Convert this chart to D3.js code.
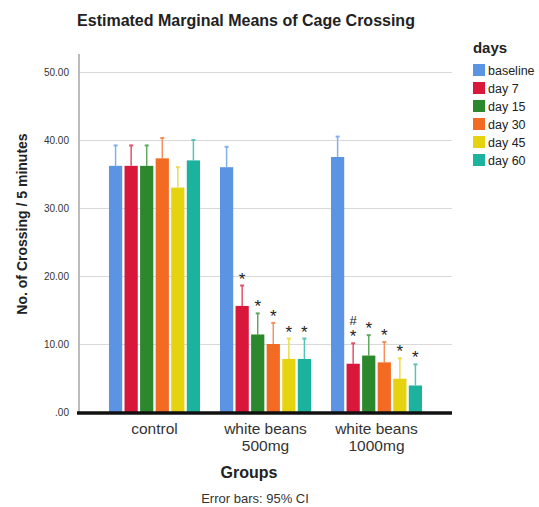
<!DOCTYPE html>
<html lang="en">
<head>
  <meta charset="UTF-8"/>
  <title>Estimated Marginal Means of Cage Crossing</title>
  <script src="https://d3js.org/d3.v7.min.js"></script>
  <style>
    body { margin: 0; background: #fff; font-family: "Liberation Sans", Arial, sans-serif; }
    .grid line { stroke: #d9d9d9; }
    .grid .domain { display: none; }
  </style>
</head>
<body>
  <svg width="539" height="507"></svg>

  <script>

  const groups = ['control', 'white beans 500mg', 'white beans 1000mg'];
  const groupLabels = [['control'], ['white beans', '500mg'], ['white beans', '1000mg']];
  const days = ['baseline', 'day 7', 'day 15', 'day 30', 'day 45', 'day 60'];
  const colors = ['#5a94e3', '#d8173b', '#2c882c', '#f36a23', '#e4d30e', '#1bb29e'];

  // estimated means per group, one value per day
  const meanControl = [36.2, 36.2, 36.2, 37.3, 33.0, 37.0];
  const mean500 = [36.0, 15.6, 11.4, 10.0, 7.8, 7.8];
  const mean1000 = [37.5, 7.1, 8.3, 7.3, 4.9, 3.9];

  // upper limit of the 95% CI
  const upperControl = [39.2, 39.2, 39.2, 40.3, 36.0, 40.0];
  const upper500 = [39.0, 18.6, 14.5, 13.1, 10.8, 10.8];
  const upper1000 = [40.5, 10.1, 11.3, 10.3, 7.9, 7.0];

  // significance marks, listed from bottom to top
  const sigControl = [[], [], [], [], [], []];
  const sig500 = [[], ['*'], ['*'], ['*'], ['*'], ['*']];
  const sig1000 = [[], ['*', '#'], ['*'], ['*'], ['*'], ['*']];

  const yTicks = [0, 10, 20, 30, 40, 50];

  const means = [meanControl, mean500, mean1000];
  const uppers = [upperControl, upper500, upper1000];
  const sigs = [sigControl, sig500, sig1000];

  const rows = [];
  groups.forEach((g, gi) => {
    days.forEach((d, di) => {
      rows.push({ group: g, day: d, value: means[gi][di], upper: uppers[gi][di], sig: sigs[gi][di], color: colors[di] });
    });
  });

  const svg = d3.select('svg');

  const plotLeft = 79, plotRight = 452, plotTop = 72, plotBottom = 412;

  const x0 = d3.scaleBand()
    .domain(groups)
    .range([plotLeft, plotRight])
    .paddingInner(0.18)
    .paddingOuter(0.27);

  const x1 = d3.scaleBand()
    .domain(days)
    .range([0, x0.bandwidth()])
    .paddingInner(0.15)
    .paddingOuter(0);

  const y = d3.scaleLinear()
    .domain([0, 50])
    .range([plotBottom, plotTop]);

  const color = d3.scaleOrdinal().domain(days).range(colors);

  // grid lines
  svg.append('g')
    .attr('class', 'grid')
    .attr('transform', `translate(${plotLeft}, 0)`)
    .call(d3.axisLeft(y).tickValues(yTicks.slice(1)).tickSize(-(plotRight - plotLeft)).tickFormat(''));

  // y axis
  const yAxis = svg.append('g')
    .attr('transform', `translate(${plotLeft}, 0)`)
    .call(d3.axisLeft(y).tickValues(yTicks).tickSize(0).tickPadding(10)
      .tickFormat((v) => v === 0 ? '.00' : d3.format('.2f')(v)));
  yAxis.select('.domain').attr('stroke', '#a6a6a6').attr('stroke-width', 1.5)
    .attr('d', `M0,${plotBottom}V${plotTop - 18}`);
  yAxis.selectAll('text')
    .attr('font-family', '"Liberation Sans", Arial, sans-serif')
    .attr('font-size', 10)
    .attr('fill', '#333');

  const bars = svg.append('g').selectAll('g')
    .data(rows)
    .join('g')
    .attr('transform', (d) => `translate(${x0(d.group) + x1(d.day)}, 0)`);

  // error bars (lower half hidden behind the bar)
  bars.append('line')
    .attr('x1', x1.bandwidth() / 2)
    .attr('x2', x1.bandwidth() / 2)
    .attr('y1', (d) => y(d.value))
    .attr('y2', (d) => y(d.upper))
    .attr('stroke', (d) => d3.interpolateRgb(d.color, '#fff')(0.25))
    .attr('stroke-width', 1.5);

  bars.append('line')
    .attr('x1', x1.bandwidth() / 2 - 2)
    .attr('x2', x1.bandwidth() / 2 + 2)
    .attr('y1', (d) => y(d.upper))
    .attr('y2', (d) => y(d.upper))
    .attr('stroke', (d) => d3.interpolateRgb(d.color, '#fff')(0.25))
    .attr('stroke-width', 2);

  bars.append('rect')
    .attr('x', 0)
    .attr('y', (d) => y(d.value))
    .attr('width', x1.bandwidth())
    .attr('height', (d) => plotBottom - y(d.value))
    .attr('fill', (d) => color(d.day));

  // significance marks
  bars.each(function (d) {
    d.sig.forEach((s, i) => {
      d3.select(this).append('text')
        .attr('x', x1.bandwidth() / 2)
        .attr('y', y(d.upper) - 1 - i * 16 + (s === '#' ? -1 : 0))
        .attr('text-anchor', 'middle')
        .attr('font-family', '"Liberation Sans", Arial, sans-serif')
        .attr('font-size', s === '#' ? 13 : 17)
        .attr('fill', '#222')
        .text(s);
    });
  });

  // baseline
  svg.append('line')
    .attr('x1', plotLeft - 2)
    .attr('x2', plotRight)
    .attr('y1', plotBottom + 1)
    .attr('y2', plotBottom + 1)
    .attr('stroke', '#111')
    .attr('stroke-width', 3.5);

  // x labels
  groups.forEach((g, gi) => {
    const t = svg.append('text')
      .attr('x', x0(g) + x0.bandwidth() / 2)
      .attr('y', 434)
      .attr('text-anchor', 'middle')
      .attr('font-size', 15.5)
      .attr('fill', '#333');
    groupLabels[gi].forEach((line, li) => {
      t.append('tspan')
        .attr('x', x0(g) + x0.bandwidth() / 2)
        .attr('dy', li === 0 ? 0 : 16.5)
        .text(line);
    });
  });

  svg.append('text')
    .attr('x', 249)
    .attr('y', 478)
    .attr('text-anchor', 'middle')
    .attr('font-size', 16)
    .attr('font-weight', 'bold')
    .attr('fill', '#222')
    .text('Groups');

  svg.append('text')
    .attr('x', -224)
    .attr('y', 27)
    .attr('transform', 'rotate(-90)')
    .attr('text-anchor', 'middle')
    .attr('font-size', 14)
    .attr('font-weight', 'bold')
    .attr('fill', '#222')
    .text('No. of Crossing / 5 minutes');

  svg.append('text')
    .attr('x', 246)
    .attr('y', 26)
    .attr('text-anchor', 'middle')
    .attr('font-size', 16)
    .attr('font-weight', 'bold')
    .attr('fill', '#222')
    .text('Estimated Marginal Means of Cage Crossing');

  svg.append('text')
    .attr('x', 255)
    .attr('y', 503)
    .attr('text-anchor', 'middle')
    .attr('font-size', 13)
    .attr('fill', '#333')
    .text('Error bars: 95% CI');

  // legend
  const legend = svg.append('g');
  legend.append('text')
    .attr('x', 490)
    .attr('y', 53)
    .attr('text-anchor', 'middle')
    .attr('font-size', 15)
    .attr('font-weight', 'bold')
    .attr('fill', '#222')
    .text('days');

  const items = legend.selectAll('g.item')
    .data(days)
    .join('g')
    .attr('class', 'item')
    .attr('transform', (d, i) => `translate(473, ${64 + i * 18})`);

  items.append('rect')
    .attr('width', 12)
    .attr('height', 12)
    .attr('fill', (d) => color(d));

  items.append('text')
    .attr('x', 15)
    .attr('y', 11)
    .attr('font-size', 12.5)
    .attr('fill', '#222')
    .text((d) => d);

  </script>
</body>
</html>
